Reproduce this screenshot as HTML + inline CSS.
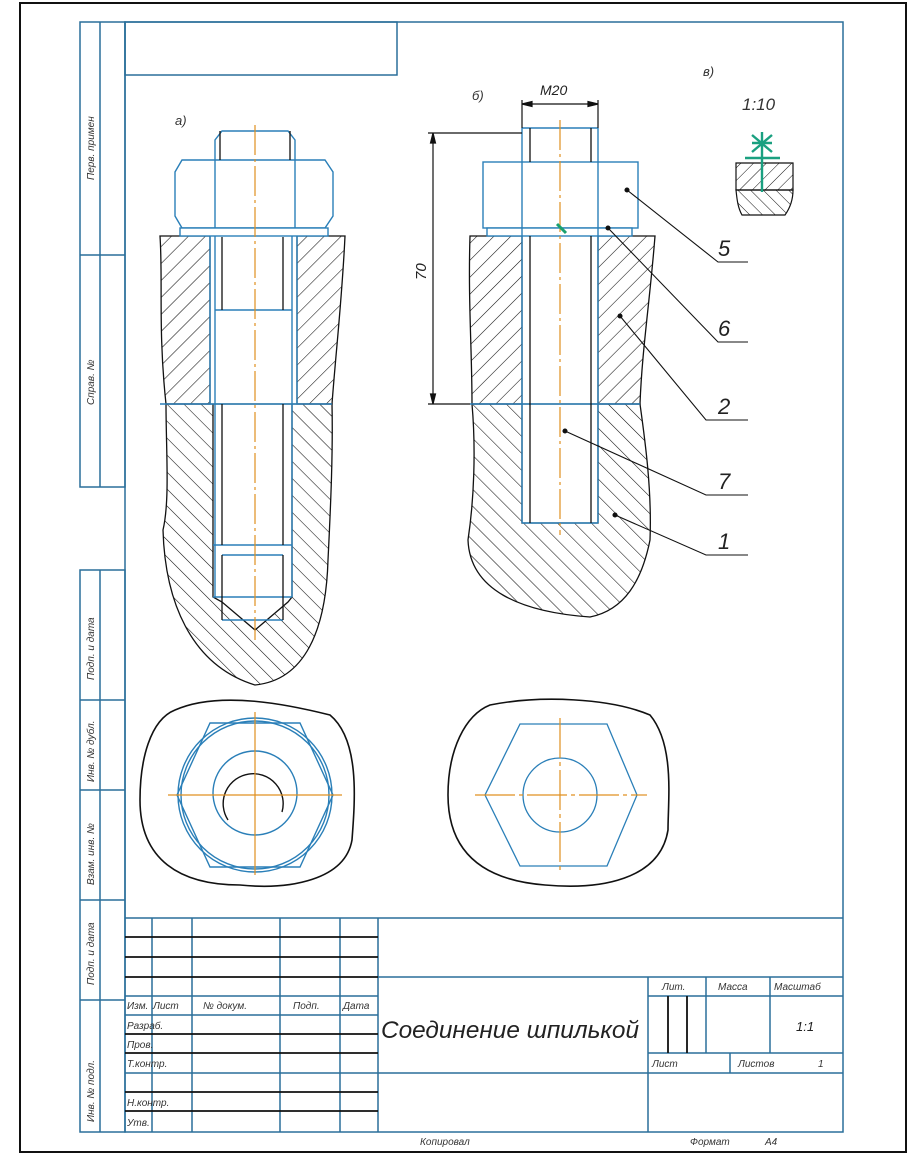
<!DOCTYPE html>
<html><head><meta charset="utf-8"><style>
html,body{margin:0;padding:0;background:#fff}
svg{display:block}
text{font-family:"Liberation Sans","DejaVu Sans",sans-serif;font-style:italic}
</style></head><body>
<svg width="910" height="1155" viewBox="0 0 910 1155" xmlns="http://www.w3.org/2000/svg">
<defs>
<pattern id="h1" width="12" height="12" patternUnits="userSpaceOnUse" patternTransform="rotate(45)">
<line x1="0" y1="0" x2="0" y2="12" stroke="#111" stroke-width="1.1"/></pattern>
<pattern id="h2" width="12" height="12" patternUnits="userSpaceOnUse" patternTransform="rotate(-45)">
<line x1="0" y1="0" x2="0" y2="12" stroke="#111" stroke-width="1.1"/></pattern>
<pattern id="h3" width="9" height="9" patternUnits="userSpaceOnUse" patternTransform="rotate(45)">
<line x1="0" y1="0" x2="0" y2="9" stroke="#111" stroke-width="1"/></pattern>
<pattern id="h4" width="9" height="9" patternUnits="userSpaceOnUse" patternTransform="rotate(-45)">
<line x1="0" y1="0" x2="0" y2="9" stroke="#111" stroke-width="1"/></pattern>
</defs>
<rect x="20" y="3" width="886" height="1149" fill="none" stroke="#111" stroke-width="2"/>
<g stroke="#2a6f9a" stroke-width="1.5" fill="none">
<rect x="125" y="22" width="718" height="1110"/>
<rect x="125" y="22" width="272" height="53"/>
<rect x="80" y="22" width="45" height="465"/>
<line x1="100" y1="22" x2="100" y2="487"/>
<line x1="80" y1="255" x2="125" y2="255"/>
<rect x="80" y="570" width="45" height="562"/>
<line x1="100" y1="570" x2="100" y2="1132"/>
<line x1="80" y1="700" x2="125" y2="700"/>
<line x1="80" y1="790" x2="125" y2="790"/>
<line x1="80" y1="900" x2="125" y2="900"/>
<line x1="80" y1="1000" x2="125" y2="1000"/>
</g>
<g font-size="10" fill="#333">
<text transform="translate(94,180) rotate(-90)">Перв. примен</text>
<text transform="translate(94,405) rotate(-90)">Справ. №</text>
<text transform="translate(94,680) rotate(-90)">Подп. и дата</text>
<text transform="translate(94,782) rotate(-90)">Инв. № дубл.</text>
<text transform="translate(94,885) rotate(-90)">Взам. инв. №</text>
<text transform="translate(94,985) rotate(-90)">Подп. и дата</text>
<text transform="translate(94,1122) rotate(-90)">Инв. № подл.</text>
</g>

<text x="175" y="125" font-size="13" fill="#333">а)</text>
<path d="M160,236 C163,280 158,330 166,404 L210,404 L210,236 Z" fill="url(#h1)" stroke="#111" stroke-width="1.3"/>
<path d="M297,236 L345,236 C342,300 336,350 332,404 L297,404 Z" fill="url(#h1)" stroke="#111" stroke-width="1.3"/>
<path fill-rule="evenodd" d="M166,404 C166,450 170,500 163,530 C165,600 190,665 255,685 C305,680 326,630 328,560 C331,500 333,450 332,404 Z M213,404 L213,597 L222,602 L255,630 L288,602 L292,597 L292,404 Z" fill="url(#h2)" stroke="#111" stroke-width="1.3"/>
<g stroke="#2a7fb8" stroke-width="1.4" fill="none">
<path d="M215,160 L215,140 L222,131 L288,131 L295,140 L295,160"/>
<path d="M182,160 L325,160 L333,172 L333,216 L325,228 L182,228 L175,216 L175,172 Z" fill="#fff"/>
<line x1="215" y1="160" x2="215" y2="228"/><line x1="295" y1="160" x2="295" y2="228"/>
<rect x="180" y="228" width="148" height="8" fill="#fff"/>
<line x1="210" y1="236" x2="210" y2="404"/><line x1="297" y1="236" x2="297" y2="404"/>
<line x1="215" y1="236" x2="215" y2="597"/><line x1="292" y1="236" x2="292" y2="597"/>
<line x1="215" y1="310" x2="292" y2="310"/>
<line x1="160" y1="404" x2="332" y2="404"/>
<line x1="213" y1="545" x2="292" y2="545"/>
<line x1="213" y1="597" x2="292" y2="597"/>
<line x1="222" y1="555" x2="283" y2="555"/>
<line x1="222" y1="620" x2="283" y2="620"/>
</g>
<g stroke="#111" stroke-width="1.3">
<line x1="222" y1="237" x2="222" y2="310"/><line x1="283" y1="237" x2="283" y2="310"/>
<line x1="222" y1="404" x2="222" y2="545"/><line x1="283" y1="404" x2="283" y2="545"/>
<line x1="220" y1="131" x2="220" y2="160"/><line x1="290" y1="131" x2="290" y2="160"/>
<line x1="222" y1="555" x2="222" y2="620"/><line x1="283" y1="555" x2="283" y2="620"/>
</g>
<line x1="255" y1="125" x2="255" y2="640" stroke="#e09020" stroke-width="1.2" stroke-dasharray="30,4,3,4"/>

<text x="472" y="100" font-size="13" fill="#333">б)</text>
<path d="M470,236 C468,300 472,350 472,404 L522,404 L522,236 Z" fill="url(#h1)" stroke="#111" stroke-width="1.3"/>
<path d="M598,236 L655,236 C650,300 642,350 640,404 L598,404 Z" fill="url(#h1)" stroke="#111" stroke-width="1.3"/>
<path fill-rule="evenodd" d="M472,404 C476,450 474,500 468,540 C470,590 520,612 590,617 C625,610 642,580 650,540 C652,490 645,440 640,404 Z M522,404 L522,523 L598,523 L598,404 Z" fill="url(#h2)" stroke="#111" stroke-width="1.3"/>
<g stroke="#2a7fb8" stroke-width="1.4" fill="none">
<rect x="483" y="162" width="155" height="66" fill="#fff"/>
<rect x="487" y="228" width="145" height="8" fill="#fff"/>
<line x1="522" y1="128" x2="522" y2="523"/><line x1="598" y1="128" x2="598" y2="523"/>
<line x1="522" y1="128" x2="598" y2="128"/>
<line x1="522" y1="523" x2="598" y2="523"/>
<line x1="470" y1="404" x2="640" y2="404"/>
</g>
<g stroke="#111" stroke-width="1.3">
<line x1="530" y1="128" x2="530" y2="162"/><line x1="591" y1="128" x2="591" y2="162"/>
<line x1="530" y1="236" x2="530" y2="523"/><line x1="591" y1="236" x2="591" y2="523"/>
</g>
<line x1="560" y1="120" x2="560" y2="535" stroke="#e09020" stroke-width="1.2" stroke-dasharray="30,4,3,4"/>
<line x1="557" y1="224" x2="566" y2="233" stroke="#1aa070" stroke-width="3"/>
<g stroke="#111" stroke-width="1.2" fill="#111">
<line x1="522" y1="100" x2="522" y2="128"/><line x1="598" y1="100" x2="598" y2="128"/>
<line x1="522" y1="104" x2="598" y2="104"/>
<path d="M522,104 l10,-2.5 v5 Z M598,104 l-10,-2.5 v5 Z"/>
<line x1="428" y1="133" x2="522" y2="133"/>
<line x1="428" y1="404" x2="470" y2="404"/>
<line x1="433" y1="133" x2="433" y2="404"/>
<path d="M433,133 l-2.5,10 h5 Z M433,404 l-2.5,-10 h5 Z"/>
</g>
<text x="540" y="95" font-size="14" fill="#222">M20</text>
<text transform="translate(426,280) rotate(-90)" font-size="15" fill="#222">70</text>
<g stroke="#111" stroke-width="1.1" fill="#111">
<circle cx="627" cy="190" r="2"/><path d="M627,190 L718,262 L748,262" fill="none"/>
<circle cx="608" cy="228" r="2"/><path d="M608,228 L718,342 L748,342" fill="none"/>
<circle cx="620" cy="316" r="2"/><path d="M620,316 L706,420 L748,420" fill="none"/>
<circle cx="565" cy="431" r="2"/><path d="M565,431 L706,495 L748,495" fill="none"/>
<circle cx="615" cy="515" r="2"/><path d="M615,515 L706,555 L748,555" fill="none"/>
</g>
<g font-size="22" fill="#222">
<text x="718" y="256">5</text><text x="718" y="336">6</text><text x="718" y="414">2</text><text x="718" y="489">7</text><text x="718" y="549">1</text>
</g>
<text x="703" y="76" font-size="13" fill="#333">в)</text>
<text x="742" y="110" font-size="17" fill="#333">1:10</text>
<path d="M736,190 L793,190 C793,200 790,208 785,215 L742,215 C738,208 737,200 736,190 Z" fill="url(#h4)" stroke="#111" stroke-width="1.2"/>
<path d="M736,163 L793,163 L793,190 L736,190 Z" fill="url(#h3)" stroke="#111" stroke-width="1.2"/>
<g stroke="#1aa080" stroke-width="2.4">
<line x1="762" y1="132" x2="762" y2="192"/>
<line x1="752" y1="135" x2="772" y2="152"/><line x1="772" y1="135" x2="752" y2="152"/>
<line x1="752" y1="143" x2="772" y2="143"/>
<line x1="745" y1="158" x2="780" y2="158"/>
</g>

<path d="M175,710 C220,690 290,705 330,715 C360,740 355,800 352,840 C345,880 290,890 240,885 C180,885 140,860 140,800 C140,760 150,720 175,710 Z" fill="none" stroke="#111" stroke-width="1.6"/>
<g stroke="#2a7fb8" stroke-width="1.4" fill="none">
<polygon points="210,723 300,723 333,795 300,867 210,867 177,795"/>
<circle cx="255" cy="795" r="77"/>
<circle cx="255" cy="795" r="74"/>
<circle cx="255" cy="793" r="42"/>
</g>
<path d="M228,820 A30,30 0 1 1 282,812" fill="none" stroke="#111" stroke-width="1.4"/>
<g stroke="#e09020" stroke-width="1.2"><line x1="168" y1="795" x2="342" y2="795"/><line x1="255" y1="712" x2="255" y2="875"/></g>

<path d="M490,705 C540,695 610,698 650,715 C675,745 668,800 668,830 C660,880 600,890 545,885 C480,880 448,850 448,795 C448,750 465,715 490,705 Z" fill="none" stroke="#111" stroke-width="1.6"/>
<g stroke="#2a7fb8" stroke-width="1.3" fill="none">
<polygon points="520,724 607,724 637,795 607,866 520,866 485,795"/>
<circle cx="560" cy="795" r="37"/>
</g>
<g stroke="#e09020" stroke-width="1.2" stroke-dasharray="40,4,4,4"><line x1="475" y1="795" x2="647" y2="795"/><line x1="560" y1="718" x2="560" y2="872"/></g>

<g stroke="#2a6f9a" stroke-width="1.5" fill="none">
<line x1="125" y1="918" x2="843" y2="918"/>
<line x1="378" y1="918" x2="378" y2="1132"/>
<line x1="152" y1="918" x2="152" y2="1132"/>
<line x1="192" y1="918" x2="192" y2="1132"/>
<line x1="280" y1="918" x2="280" y2="1132"/>
<line x1="340" y1="918" x2="340" y2="1132"/>
<line x1="378" y1="977" x2="843" y2="977"/>
<line x1="378" y1="1073" x2="843" y2="1073"/>
<line x1="648" y1="977" x2="648" y2="1132"/>
<line x1="706" y1="977" x2="706" y2="1053"/>
<line x1="770" y1="977" x2="770" y2="1053"/>
<line x1="648" y1="996" x2="843" y2="996"/>
<line x1="648" y1="1053" x2="843" y2="1053"/>
<line x1="730" y1="1053" x2="730" y2="1073"/>
<line x1="125" y1="996" x2="378" y2="996"/>
<line x1="125" y1="1015" x2="378" y2="1015"/>
<line x1="125" y1="1073" x2="378" y2="1073"/>
</g>
<g stroke="#111" stroke-width="1.8">
<line x1="125" y1="937" x2="378" y2="937"/>
<line x1="125" y1="957" x2="378" y2="957"/>
<line x1="125" y1="977" x2="378" y2="977"/>
<line x1="125" y1="1034" x2="378" y2="1034"/>
<line x1="125" y1="1053" x2="378" y2="1053"/>
<line x1="125" y1="1092" x2="378" y2="1092"/>
<line x1="125" y1="1111" x2="378" y2="1111"/>
<line x1="668" y1="996" x2="668" y2="1053"/>
<line x1="687" y1="996" x2="687" y2="1053"/>
</g>
<g font-size="10" fill="#333">
<text x="127" y="1009">Изм.</text><text x="153" y="1009">Лист</text><text x="203" y="1009">№ докум.</text><text x="293" y="1009">Подп.</text><text x="343" y="1009">Дата</text>
<text x="127" y="1029">Разраб.</text><text x="127" y="1048">Пров.</text><text x="127" y="1067">Т.контр.</text>
<text x="127" y="1106">Н.контр.</text><text x="127" y="1126">Утв.</text>
<text x="662" y="990">Лит.</text><text x="718" y="990">Масса</text><text x="774" y="990">Масштаб</text>
<text x="652" y="1067">Лист</text><text x="738" y="1067">Листов</text><text x="818" y="1067">1</text>
<text x="420" y="1145">Копировал</text><text x="690" y="1145">Формат</text><text x="765" y="1145">А4</text>
</g>
<text x="381" y="1038" font-size="24" fill="#222" textLength="258" lengthAdjust="spacingAndGlyphs">Соединение шпилькой</text>
<text x="796" y="1031" font-size="13" fill="#222">1:1</text>
</svg>
</body></html>
